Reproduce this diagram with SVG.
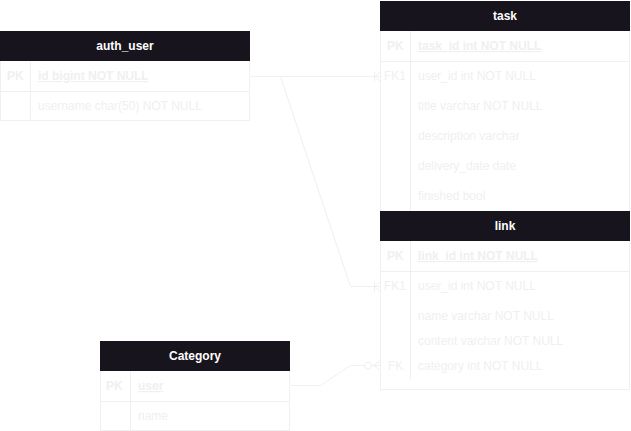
<svg xmlns="http://www.w3.org/2000/svg" width="631" height="431" viewBox="0 0 631 431">
<style>
.box{fill:#ffffff;stroke:#f0f0f0;stroke-width:1}
.hdr{fill:#18141d;stroke:none}
.ln{stroke:#f0f0f0;stroke-width:1;fill:none}
.ht{font-family:"Liberation Sans",Arial,sans-serif;font-size:12px;font-weight:bold;fill:#ffffff;text-anchor:middle}
.t{font-family:"Liberation Sans",Arial,sans-serif;font-size:12px;fill:#f0f0f0}
.k{font-family:"Liberation Sans",Arial,sans-serif;font-size:12px;font-weight:bold;fill:#f0f0f0}
.u{text-decoration:underline}
</style>
<rect width="631" height="431" fill="#ffffff"/>
<g id="connectors">
<path class="ln" d="M250.5 76.5 H380.5"/>
<path class="ln" d="M374.5 71.5 V81.5 M380.5 71.5 L374.5 76.5 L380.5 81.5"/>
<path class="ln" d="M280.5 76.5 L350.5 286.5 H380.5"/>
<path class="ln" d="M374.5 281.5 V291.5 M380.5 281.5 L374.5 286.5 L380.5 291.5"/>
<path class="ln" d="M290.5 385.5 H320.5 L350.5 365.5 H364.5"/>
<circle class="ln" cx="368" cy="365.5" r="3.5"/>
<path class="ln" d="M371.5 365.5 H380.5 M380.5 360.5 L373.5 365.5 L380.5 370.5"/>
</g>
<g id="auth_user">
<rect class="box" x="0.5" y="31.5" width="249" height="89"/>
<rect class="hdr" x="0" y="31" width="250" height="30"/>
<text class="ht" x="125" y="50">auth_user</text>
<path class="ln" d="M0.5 91.5 H249.5 M30.5 61 V120.5"/>
<text class="k" x="7" y="80">PK</text>
<text class="k u" x="38" y="80">id bigint NOT NULL</text>
<text class="t" x="38" y="110">username char(50) NOT NULL</text>
</g>
<g id="task">
<rect class="box" x="380.5" y="1.5" width="249" height="210"/>
<rect class="hdr" x="380" y="1" width="250" height="30"/>
<text class="ht" x="505" y="20">task</text>
<path class="ln" d="M380.5 61.5 H629.5 M410.5 31 V211"/>
<text class="k" x="387" y="50">PK</text>
<text class="k u" x="418" y="50">task_id int NOT NULL</text>
<text class="t" x="384" y="80">FK1</text>
<text class="t" x="418" y="80">user_id int NOT NULL</text>
<text class="t" x="418" y="110">title varchar NOT NULL</text>
<text class="t" x="418" y="140">description varchar</text>
<text class="t" x="418" y="170">delivery_date date</text>
<text class="t" x="418" y="200">finished bool</text>
</g>
<g id="link">
<rect class="box" x="380.5" y="211.5" width="249" height="178"/>
<rect class="hdr" x="380" y="211" width="250" height="30"/>
<text class="ht" x="505" y="230">link</text>
<path class="ln" d="M380.5 271.5 H629.5 M410.5 241 V380"/>
<text class="k" x="387" y="260">PK</text>
<text class="k u" x="418" y="260">link_id int NOT NULL</text>
<text class="t" x="384" y="290">FK1</text>
<text class="t" x="418" y="290">user_id int NOT NULL</text>
<text class="t" x="418" y="320">name varchar NOT NULL</text>
<text class="t" x="418" y="345">content varchar NOT NULL</text>
<text class="t" x="388" y="370">FK</text>
<text class="t" x="418" y="370">category int NOT NULL</text>
</g>
<g id="Category">
<rect class="box" x="100.5" y="341.5" width="189" height="89"/>
<rect class="hdr" x="100" y="341" width="190" height="30"/>
<text class="ht" x="195" y="360">Category</text>
<path class="ln" d="M100.5 401.5 H289.5 M130.5 371 V430.5"/>
<text class="k" x="106" y="390">PK</text>
<text class="k u" x="138" y="390">user</text>
<text class="t" x="138" y="420">name</text>
</g>
</svg>
